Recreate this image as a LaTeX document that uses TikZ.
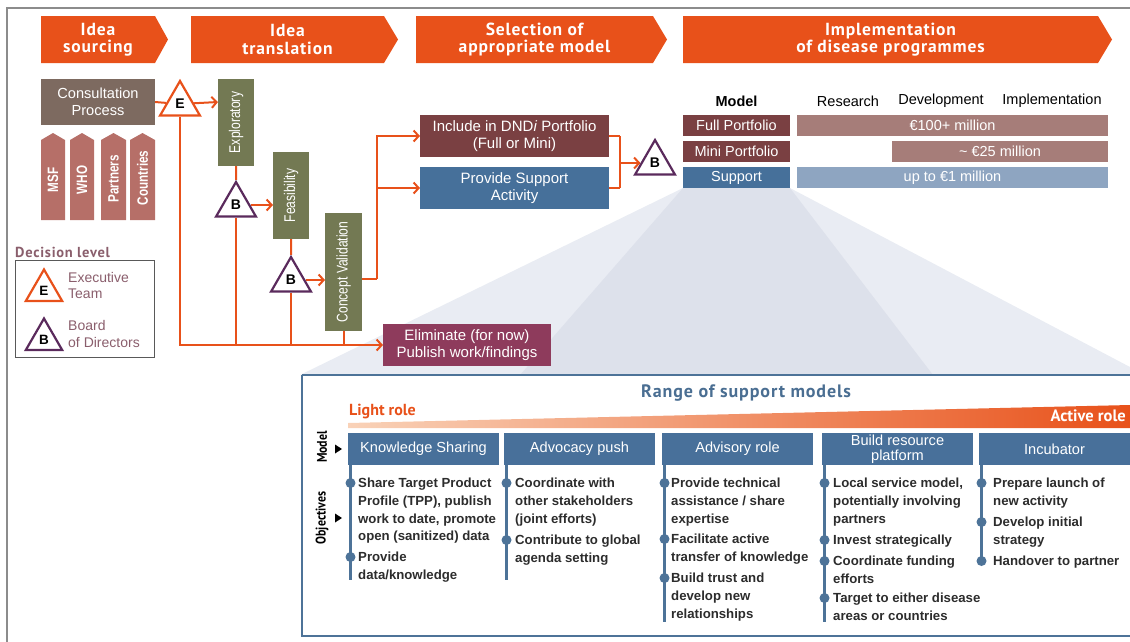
\documentclass[tikz,border=0pt]{standalone}
\usepackage{fontspec}
\usepackage{graphicx}
\setmainfont{Liberation Sans}
\newfontfamily\din[LetterSpace=5]{PT Sans}
\newfontfamily\dinp{PT Sans}
\newfontfamily\dinc[FakeStretch=0.85]{PT Sans}
\newfontfamily\cond[FakeStretch=0.78]{Liberation Sans}
\usetikzlibrary{arrows.meta,shapes.geometric,calc}
\pgfdeclarelayer{back}
\pgfdeclarelayer{mid}
\pgfsetlayers{back,mid,main}
\definecolor{dorange}{HTML}{E8511A}
\definecolor{consc}{HTML}{7D6A60}
\definecolor{srcc}{HTML}{B66F68}
\definecolor{olive}{HTML}{737953}
\definecolor{dred}{HTML}{7A4042}
\definecolor{steel}{HTML}{46709A}
\definecolor{plum}{HTML}{8E3B5C}
\definecolor{barred}{HTML}{A67D79}
\definecolor{barblue}{HTML}{8EA5C1}
\definecolor{purp}{HTML}{5A2A5C}
\definecolor{legc}{HTML}{8A5E6C}
\definecolor{boxblue}{HTML}{4D7398}
\definecolor{hdrblue}{HTML}{48709A}
\definecolor{titleblue}{HTML}{4A6E92}
\definecolor{funa}{HTML}{E9ECF3}
\definecolor{funb}{HTML}{DDE1EB}
\definecolor{peach}{HTML}{F9D2B8}
\definecolor{bodyt}{HTML}{2C2C2C}
\definecolor{framegray}{HTML}{8C8C8C}
\begin{document}
\begin{tikzpicture}[x=1pt,y=-1pt,
  flow/.style={draw=dorange,line width=2pt},
  arr/.style={-{Straight Barb[length=5pt,width=11pt]}},
  box/.style={inner sep=0pt,outer sep=0pt,text=white,align=center,anchor=north west},
  boxfont/.style={font=\fontsize{15}{17}\selectfont},
  hdr/.style={text=white,align=center,inner sep=0pt,font=\din\bfseries\fontsize{17.5}{17.5}\selectfont},
  tri/.style={regular polygon,regular polygon sides=3,minimum size=46pt,inner sep=0pt,fill=white,line width=2.2pt,font=\bfseries\fontsize{14}{14}\selectfont},
  triE/.style={tri,draw=dorange},
  triB/.style={tri,draw=purp},
  ltri/.style={regular polygon,regular polygon sides=3,minimum size=42pt,inner sep=0pt,fill=white,line width=2.2pt,font=\bfseries\fontsize{13.5}{13.5}\selectfont},
  rot/.style={inner sep=0pt,text=white,font=\cond\bfseries\fontsize{15}{15}\selectfont},
  tab/.style={inner sep=0pt,font=\fontsize{14.5}{14.5}\selectfont},
  colhdr/.style={box,fill=hdrblue,minimum width=151pt,minimum height=32pt,font=\fontsize{14.6}{15.5}\selectfont},
  colline/.style={draw=boxblue,line width=3pt},
  dot/.style={fill=boxblue},
  bullet/.style={anchor=north west,inner sep=0pt,align=left,text=bodyt,font=\bfseries\fontsize{13.2}{17.7}\selectfont},
]
\useasboundingbox (0,0) rectangle (1130,641);
% frame
\draw[framegray,line width=2pt] (7,645) -- (7,8) -- (1135,8);

% ---- header arrows
\fill[dorange] (41,16) -- (155,16) -- (168,39.5) -- (155,63) -- (41,63) -- cycle;
\node[hdr] (h1) at (98,39.5) {Idea\\sourcing};
\fill[dorange] (191,16) -- (384,16) -- (398,39.5) -- (384,63) -- (191,63) -- cycle;
\node[hdr] (h2) at (287.5,39.5) {Idea\\translation};
\fill[dorange] (416,16) -- (653,16) -- (667,39.5) -- (653,63) -- (416,63) -- cycle;
\node[hdr] (h3) at (534.5,39.5) {Selection of\\appropriate model};
\fill[dorange] (683,16) -- (1098,16) -- (1112,39.5) -- (1098,63) -- (683,63) -- cycle;
\node[hdr] (h4) at (890.5,39.5) {Implementation\\of disease programmes};

% ---- idea sourcing
\node[box,fill=consc,minimum width=114pt,minimum height=46pt,font=\fontsize{14.6}{16.5}\selectfont] (cons) at (41,79) {Consultation\\Process};
\fill[srcc] (41,220) -- (41,140) -- (53,133) -- (65,140) -- (65,220) -- cycle;
\node[rot] (msf) at (53,180) {\rotatebox{90}{MSF}};
\fill[srcc] (70,220) -- (70,140) -- (82,133) -- (94,140) -- (94,220) -- cycle;
\node[rot] (who) at (82,180) {\rotatebox{90}{WHO}};
\fill[srcc] (101,220) -- (101,140) -- (113.5,133) -- (126,140) -- (126,220) -- cycle;
\node[rot] (partners) at (113.5,179) {\rotatebox{90}{Partners}};
\fill[srcc] (130,220) -- (130,140) -- (142.5,133) -- (155,140) -- (155,220) -- cycle;
\node[rot] (countries) at (142.5,178) {\rotatebox{90}{Countries}};

% ---- idea translation
\node[box,fill=olive,minimum width=36pt,minimum height=87pt] (expl) at (218,79) {\cond\fontsize{15.5}{15.5}\selectfont\rotatebox{90}{Exploratory}};
\node[box,fill=olive,minimum width=36pt,minimum height=87pt] (feas) at (273,152) {\cond\fontsize{15.5}{15.5}\selectfont\rotatebox{90}{Feasibility}};
\node[box,fill=olive,minimum width=37pt,minimum height=118pt] (conc) at (325,213) {\cond\fontsize{15.5}{15.5}\selectfont\rotatebox{90}{Concept Validation}};
\node[triE] (E) at (180,104) {E};
\node[triB] (B1) at (236,205) {B};
\node[triB] (B2) at (291,280) {B};

% ---- selection
\node[box,fill=dred,minimum width=189pt,minimum height=42pt,boxfont] (incl) at (420,115) {Include in DND\textit{i} Portfolio\\(Full or Mini)};
\node[box,fill=steel,minimum width=189pt,minimum height=42pt,boxfont] (prov) at (420,167) {Provide Support\\Activity};
\node[box,fill=plum,minimum width=168pt,minimum height=42pt,boxfont] (elim) at (383,324) {Eliminate (for now)\\Publish work/findings};
\node[triB] (B3) at (655,163) {B};

% ---- model table
\node[tab,font=\bfseries\fontsize{14.5}{14.5}\selectfont] (tmodel) at (736.5,101) {Model};
\node[tab] (tres) at (848,101) {Research};
\node[tab] (tdev) at (941,101) {Development};
\node[tab] (timp) at (1052,101) {Implementation};
\node[box,fill=dred,minimum width=107pt,minimum height=21pt,tab] (full) at (683,115) {Full Portfolio};
\node[box,fill=dred,minimum width=107pt,minimum height=21pt,tab] (mini) at (683,141) {Mini Portfolio};
\node[box,fill=steel,minimum width=107pt,minimum height=21pt,tab] (sup) at (683,167) {Support};
\node[box,fill=barred,minimum width=311pt,minimum height=21pt,tab] (bfull) at (797,115) {€100+ million};
\node[box,fill=barred,minimum width=216pt,minimum height=21pt,tab] (bmini) at (892,141) {\textasciitilde{} €25 million};
\node[box,fill=barblue,minimum width=311pt,minimum height=21pt,tab] (bsup) at (797,167) {up to €1 million};

% ---- legend
\node[anchor=west,inner sep=0pt,text=legc,font=\din\bfseries\fontsize{14.5}{14.5}\selectfont] (legt) at (15,252) {Decision level};
\node[draw=black!65,line width=1.3pt,anchor=north west,minimum width=139pt,minimum height=97pt,inner sep=0pt] (leg) at (15,260) {};
\node[ltri,draw=dorange] (LE) at (44,290.5) {E};
\node[anchor=west,inner sep=0pt,align=left,text=legc,font=\fontsize{14}{16.5}\selectfont] (legE) at (68,285.5) {Executive\\Team};
\node[ltri,draw=purp] (LB) at (44,339.5) {B};
\node[anchor=west,inner sep=0pt,align=left,text=legc,font=\fontsize{14}{16.5}\selectfont] (legB) at (68,334) {Board\\of Directors};

% ---- connectors
\begin{pgfonlayer}{mid}
\draw[flow] (cons.east) -- (E);
\draw[flow,arr] (E.center) -- (expl.west |- cons.east);
\draw[flow,arr] (E.south) |- (elim.west);
\draw[flow] (expl.south) -- (B1.north);
\draw[flow,arr] (B1.east) -- (feas.west |- B1.east);
\draw[flow] (B1.south) -- (B1.south |- elim.west);
\draw[flow] (feas.south) -- (B2.north);
\draw[flow,arr] (B2.east) -- (conc.west |- B2.east);
\draw[flow] (B2.south) -- (B2.south |- elim.west);
\draw[flow] (conc.south) -- (conc.south |- elim.west);
\draw[flow] ([yshift=-7pt]conc.east) -- ++(15,0) coordinate (sp);
\draw[flow,arr] (sp) |- (incl.west);
\draw[flow,arr] (sp) |- (prov.west);
\draw[flow] (incl.east) -- ++(11,0) coordinate (bt);
\draw[flow] (prov.east) -- ++(11,0) coordinate (bb);
\draw[flow] (bt) -- (bb);
\draw[flow,arr] (B3.west -| bt) -- (B3.west);
\end{pgfonlayer}

% ---- funnel
\begin{pgfonlayer}{back}
\fill[funa] (sup.south west) -- (sup.south east) -- (1130,367) -- (1130,375) -- (300,375) -- cycle;
\fill[funb] (sup.south west) -- (sup.south east) -- (933,375) -- (520,375) -- cycle;
\end{pgfonlayer}

% ---- support models box
\draw[boxblue,line width=2pt] (302,375) -- (302,636) -- (1140,636);
\draw[boxblue,line width=2pt] (302,375) -- (1140,375);
\node[text=titleblue,inner sep=0pt,font=\din\bfseries\fontsize{18}{18}\selectfont] (title) at (746,393) {Range of support models};
\shade[left color=peach,right color=dorange] (348,428) -- (348,423) -- (1130,405) -- (1130,428) -- cycle;
\node[anchor=west,inner sep=0pt,text=dorange,font=\dinp\bfseries\fontsize{16}{16}\selectfont] (light) at (349,411) {Light role};
\node[anchor=east,inner sep=0pt,text=white,font=\dinp\bfseries\fontsize{16.5}{16.5}\selectfont] (active) at (1126,416) {Active role};

\node[rotate=90,inner sep=0pt,font=\dinc\bfseries\fontsize{14}{14}\selectfont] (lmodel) at (322,447) {Model};
\fill (335,444.5) -- (342,449) -- (335,453.5) -- cycle;
\node[rotate=90,inner sep=0pt,font=\dinc\bfseries\fontsize{14}{14}\selectfont] (lobj) at (322,518) {Objectives};
\fill (335,513.5) -- (342,518) -- (335,522.5) -- cycle;

\node[colhdr] (hks) at (348,433) {Knowledge Sharing};
\node[colhdr] (hadv) at (504,433) {Advocacy push};
\node[colhdr] (hadr) at (662,433) {Advisory role};
\node[colhdr] (hbrp) at (822,433) {Build resource\\platform};
\node[colhdr,minimum width=160pt] (hinc) at (979,433) {\hspace*{-9pt}Incubator};

\draw[colline] ([xshift=2.5pt]hks.south west) -- ++(0,115);
\draw[colline] ([xshift=2.5pt]hadv.south west) -- ++(0,115);
\draw[colline] ([xshift=2.5pt]hadr.south west) -- ++(0,157);
\draw[colline] ([xshift=2.5pt]hbrp.south west) -- ++(0,157);
\draw[colline] ([xshift=2.5pt]hinc.south west) -- ++(0,98);

\foreach \x/\y in {350.5/483,350.5/557, 506.5/483,506.5/540, 664.5/483,664.5/539,664.5/578, 824.5/483,824.5/540,824.5/561,824.5/598, 981.5/483,981.5/522,981.5/561}
  \fill[dot] (\x,\y) circle[radius=5pt];

\node[bullet] (b11) at (358,478) {Share Target Product\\Profile (TPP), publish\\work to date, promote\\open (sanitized) data};
\node[bullet] (b12) at (358,552) {Provide\\data/knowledge};
\node[bullet] (b21) at (515,478) {Coordinate with\\other stakeholders\\(joint efforts)};
\node[bullet] (b22) at (515,535) {Contribute to global\\agenda setting};
\node[bullet] (b31) at (671,478) {Provide technical\\assistance / share\\expertise};
\node[bullet] (b32) at (671,534) {Facilitate active\\transfer of knowledge};
\node[bullet] (b33) at (671,573) {Build trust and\\develop new\\relationships};
\node[bullet] (b41) at (833,478) {Local service model,\\potentially involving\\partners};
\node[bullet] (b42) at (833,535) {Invest strategically};
\node[bullet] (b43) at (833,556) {Coordinate funding\\efforts};
\node[bullet] (b44) at (833,593) {Target to either disease\\areas or countries};
\node[bullet] (b51) at (993,478) {Prepare launch of\\new activity};
\node[bullet] (b52) at (993,517) {Develop initial\\strategy};
\node[bullet] (b53) at (993,556) {Handover to partner};
\end{tikzpicture}
\end{document}
